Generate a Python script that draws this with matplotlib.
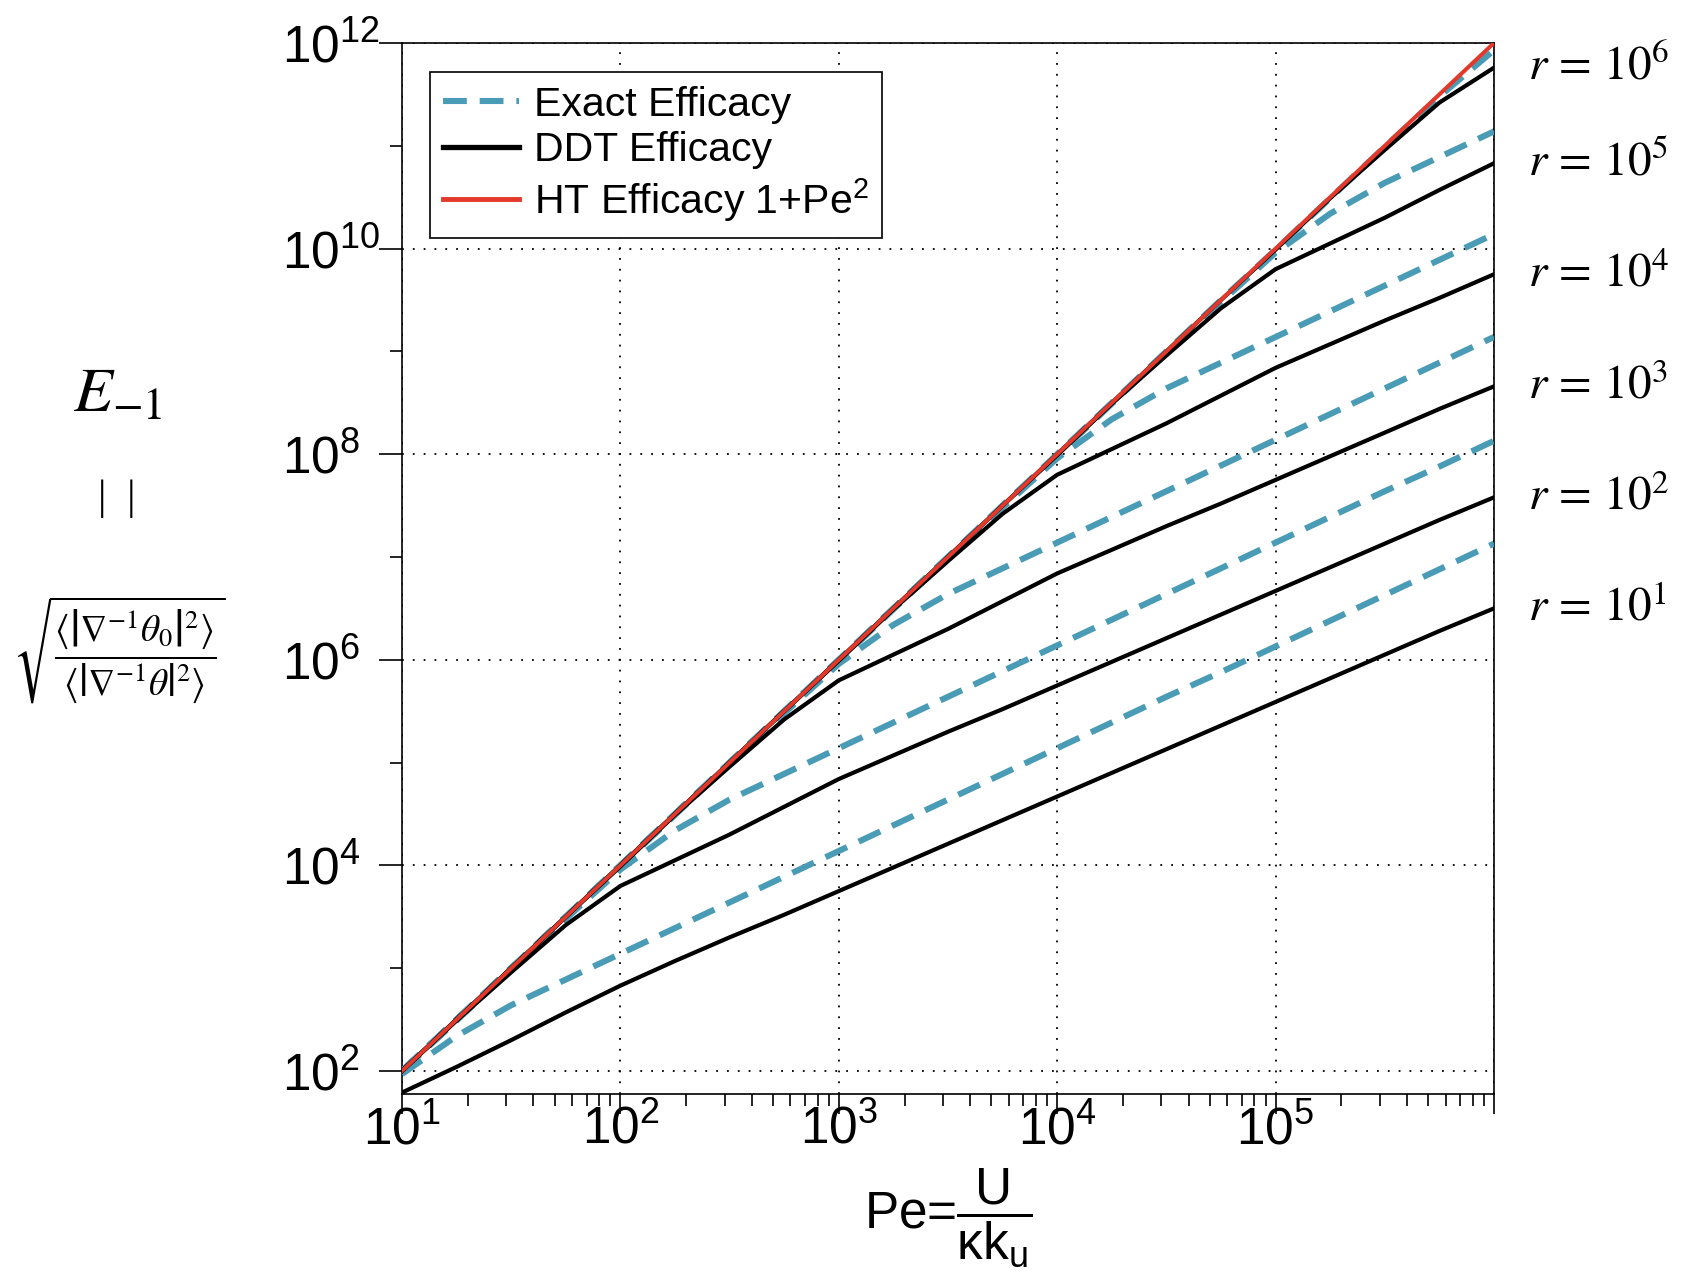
import numpy as np
import matplotlib
matplotlib.use("Agg")
import matplotlib.pyplot as plt
import matplotlib.ticker as mticker
import matplotlib.transforms as mtransforms
from matplotlib.lines import Line2D

plt.rcParams["font.family"] = ["Liberation Sans", "DejaVu Sans"]
plt.rcParams["mathtext.fontset"] = "custom"
plt.rcParams["mathtext.rm"] = "Liberation Sans"
plt.rcParams["mathtext.it"] = "Liberation Sans:italic"
plt.rcParams["mathtext.sf"] = "Liberation Sans"

# Peclet number grid (log10) and efficacy curves (log10 of E)
log_pe = [1.0, 1.25, 1.5, 1.75, 2.0, 2.25, 2.5, 2.75, 3.0, 3.25, 3.5,
          3.75, 4.0, 4.25, 4.5, 4.75, 5.0, 5.25, 5.5, 5.75, 6.0]

ht_log = [2.0, 2.5, 3.0, 3.5, 4.0, 4.5, 5.0, 5.5, 6.0, 6.5, 7.0,
          7.5, 8.0, 8.5, 9.0, 9.5, 10.0, 10.5, 11.0, 11.5, 12.0]

exact_r1 = [1.97, 2.34, 2.64, 2.89, 3.14, 3.39, 3.64, 3.89, 4.14, 4.39, 4.64,
            4.89, 5.14, 5.39, 5.64, 5.88, 6.13, 6.38, 6.63, 6.88, 7.13]
exact_r2 = [2.0, 2.49, 2.99, 3.48, 3.96, 4.34, 4.64, 4.89, 5.14, 5.39, 5.64,
            5.89, 6.14, 6.39, 6.64, 6.89, 7.14, 7.39, 7.64, 7.88, 8.13]
exact_r3 = [2.0, 2.5, 3.0, 3.49, 3.99, 4.49, 4.99, 5.48, 5.96, 6.34, 6.64,
            6.89, 7.14, 7.39, 7.64, 7.89, 8.14, 8.39, 8.64, 8.89, 9.14]
exact_r4 = [2.0, 2.5, 3.0, 3.5, 4.0, 4.5, 5.0, 5.49, 5.99, 6.49, 6.99,
            7.48, 7.96, 8.34, 8.64, 8.89, 9.14, 9.39, 9.64, 9.89, 10.14]
exact_r5 = [2.0, 2.5, 3.0, 3.5, 4.0, 4.5, 5.0, 5.5, 6.0, 6.5, 7.0,
            7.5, 7.99, 8.49, 8.99, 9.48, 9.96, 10.34, 10.64, 10.89, 11.14]
exact_r6 = [2.0, 2.5, 3.0, 3.5, 4.0, 4.5, 5.0, 5.5, 6.0, 6.5, 7.0,
            7.5, 8.0, 8.5, 9.0, 9.5, 9.99, 10.49, 10.99, 11.48, 11.93]

ddt_r1 = [1.79, 2.04, 2.30, 2.57, 2.83, 3.07, 3.30, 3.52, 3.75, 3.98, 4.21,
          4.44, 4.67, 4.90, 5.13, 5.36, 5.59, 5.82, 6.05, 6.28, 6.50]
ddt_r2 = [2.0, 2.49, 2.96, 3.42, 3.80, 4.05, 4.30, 4.57, 4.84, 5.07, 5.30,
          5.52, 5.75, 5.98, 6.21, 6.44, 6.67, 6.90, 7.13, 7.36, 7.58]
ddt_r3 = [2.0, 2.5, 3.0, 3.5, 3.99, 4.49, 4.96, 5.42, 5.80, 6.05, 6.30,
          6.57, 6.84, 7.07, 7.30, 7.52, 7.75, 7.98, 8.21, 8.44, 8.66]
ddt_r4 = [2.0, 2.5, 3.0, 3.5, 4.0, 4.5, 5.0, 5.5, 5.99, 6.49, 6.96,
          7.42, 7.80, 8.05, 8.30, 8.57, 8.84, 9.07, 9.30, 9.52, 9.75]
ddt_r5 = [2.0, 2.5, 3.0, 3.5, 4.0, 4.5, 5.0, 5.5, 6.0, 6.5, 7.0,
          7.5, 7.99, 8.49, 8.96, 9.42, 9.80, 10.05, 10.30, 10.57, 10.83]
ddt_r6 = [2.0, 2.5, 3.0, 3.5, 4.0, 4.5, 5.0, 5.5, 6.0, 6.5, 7.0,
          7.5, 8.0, 8.5, 9.0, 9.5, 9.99, 10.49, 10.96, 11.42, 11.76]

r_exponents = [1, 2, 3, 4, 5, 6]
exact_curves = [exact_r1, exact_r2, exact_r3, exact_r4, exact_r5, exact_r6]
ddt_curves = [ddt_r1, ddt_r2, ddt_r3, ddt_r4, ddt_r5, ddt_r6]

x_major = [1e1, 1e2, 1e3, 1e4, 1e5, 1e6]
x_labels = [r"$\mathsf{10^{1}}$", r"$\mathsf{10^{2}}$", r"$\mathsf{10^{3}}$",
            r"$\mathsf{10^{4}}$", r"$\mathsf{10^{5}}$", ""]
y_major = [1e2, 1e4, 1e6, 1e8, 1e10, 1e12]
y_labels = [r"$10^{2}$", r"$10^{4}$", r"$10^{6}$", r"$10^{8}$", r"$10^{10}$", r"$10^{12}$"]
y_minor = [1e3, 1e5, 1e7, 1e9, 1e11]

CYAN = "#4A9CB6"
RED = "#E3392B"
LW_EXACT, LW_DDT, LW_HT = 4.4, 3.0, 2.9
DASH = (3.9, 2.1)

pe = 10.0 ** np.array(log_pe)

fig = plt.figure(figsize=(16.82, 12.80), dpi=100)
ax = fig.add_axes([0.2390, 0.1453, 0.6492, 0.8211])
ax.set_xscale("log")
ax.set_yscale("log")

for vals in exact_curves:
    ax.plot(pe, 10.0 ** np.array(vals), color=CYAN, lw=LW_EXACT, dashes=DASH,
            dash_capstyle="butt", zorder=3)
for vals in ddt_curves:
    ax.plot(pe, 10.0 ** np.array(vals), color="black", lw=LW_DDT, zorder=4)
ax.plot(pe, 10.0 ** np.array(ht_log), color=RED, lw=LW_HT, zorder=5)

ax.set_xlim(10, 1e6)
ax.set_ylim(59.7, 1e12)

ax.xaxis.set_minor_locator(mticker.LogLocator(base=10, subs=np.arange(2, 10)))
ax.xaxis.set_minor_formatter(mticker.NullFormatter())
ax.set_xticks(x_major, x_labels, fontsize=37)
ax.yaxis.set_minor_locator(mticker.FixedLocator(y_minor))
ax.yaxis.set_minor_formatter(mticker.NullFormatter())
ax.set_yticks(y_major, y_labels, fontsize=37)
for lab in ax.get_yticklabels():
    lab.set_horizontalalignment("left")

ax.tick_params(axis="both", which="both", direction="out", top=False, right=False,
               width=1.2, color="black")
ax.tick_params(axis="x", which="major", length=14.4, pad=-6.5)
ax.tick_params(axis="x", which="minor", length=8.6)
ax.tick_params(axis="y", which="major", length=16.5, pad=70)
ax.tick_params(axis="y", which="minor", length=8.6)

for sp in ax.spines.values():
    sp.set_linewidth(1.2)

ax.grid(True, which="major", color="black", linestyle=(0, (1, 5)), linewidth=1.3)
ax.set_axisbelow(True)

handles = [
    Line2D([], [], color=CYAN, lw=LW_EXACT, dashes=DASH, dash_capstyle="butt"),
    Line2D([], [], color="black", lw=LW_DDT + 0.8),
    Line2D([], [], color=RED, lw=LW_HT + 0.6),
]
leg = ax.legend(handles, ["Exact Efficacy", "DDT Efficacy", r"HT Efficacy 1+Pe$^{2}$"],
                loc="upper left", bbox_to_anchor=(0.0256, 0.9724), borderaxespad=0,
                fontsize=29.5, fancybox=False, framealpha=1, edgecolor="black",
                handlelength=1.85, handletextpad=0.35, labelspacing=0.18, borderpad=0.33)
leg.get_frame().set_linewidth(1.2)

# r labels beside the DDT curve ends
side = mtransforms.blended_transform_factory(ax.transAxes, ax.transData)
for k, vals in zip(r_exponents, ddt_curves):
    ax.text(1.031, 10.0 ** vals[-1], r"$r\,=\,10^{%d}$" % k, transform=side,
            ha="left", va="center", fontsize=34, math_fontfamily="stix")

ax.set_xlabel(r"Pe=$\dfrac{\mathsf{U}}{\mathsf{\kappa k_u}}$", fontsize=37, va="center")
ax.xaxis.set_label_coords(0.5, -0.118)

# stacked y label: E_-1 = sqrt(<|grad^-1 theta0|^2> / <|grad^-1 theta|^2>)
fig.text(0.0702, 0.6914, r"$E_{-1}$", fontsize=46, math_fontfamily="stix",
         ha="center", va="center")
fig.text(0.0696, 0.6102, "|  |", fontsize=30, family="Liberation Serif",
         ha="center", va="center")
fig.text(0.0710, 0.4922,
         r"$\sqrt{\dfrac{\left\langle\left|\nabla^{-1}\theta_0\right|^2\right\rangle}"
         r"{\left\langle\left|\nabla^{-1}\theta\right|^2\right\rangle}}$",
         fontsize=27, math_fontfamily="stix", ha="center", va="center")

fig.savefig("out.png", dpi=100)
